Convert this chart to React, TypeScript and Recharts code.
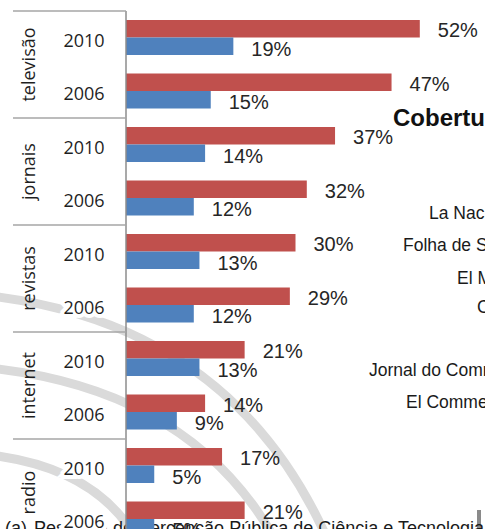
import { BarChart, Bar, XAxis, YAxis, LabelList } from "recharts";

const groups = ["televisão", "jornais", "revistas", "internet", "radio"];
const years = ["2010", "2006"];
// red bars (top of each pair) and blue bars (bottom), in row order
const redValues = [52, 47, 37, 32, 30, 29, 21, 14, 17, 21];
const blueValues = [19, 15, 14, 12, 13, 12, 13, 9, 5, 5];
const sideTexts = ["La Nación", "Folha de S.Paulo", "El Mercurio", "Clarín", "Jornal do Commercio", "El Commercio"];
const caption = ["(a)", "Pesquisa de Percepção Pública de Ciência e Tecnologia"];
const title = "Cobertura";

const RED = "#C0504D";
const BLUE = "#4F81BD";
const BAND = 53.5;

const rows = groups.flatMap((g, gi) =>
  years.map((y, yi) => ({
    key: `${g}-${y}`,
    group: g,
    year: y,
    red: redValues[gi * 2 + yi],
    blue: blueValues[gi * 2 + yi],
  }))
);

const YearTick = (props: any) => {
  const { y, payload } = props;
  const idx = payload.index;
  const row = rows[idx];
  const first = idx % 2 === 0;
  return (
    <g>
      <text
        x={84}
        y={y + 2}
        textAnchor="middle"
        dominantBaseline="central"
        fontFamily="'Open Sans', sans-serif"
        fontSize={18}
        fill="#1f1f1f"
        stroke="#fff"
        strokeWidth={8}
        paintOrder="stroke"
      >
        {row.year}
      </text>
      {first && (
        <>
          <line x1={13} x2={126} y1={y - BAND / 2} y2={y - BAND / 2} stroke="#a6a6a6" strokeWidth={1.5} />
          <text
            x={28}
            y={y + BAND / 2}
            transform={`rotate(-90, 28, ${y + BAND / 2})`}
            textAnchor="middle"
            dominantBaseline="central"
            fontFamily="'Open Sans', sans-serif"
            fontSize={18}
            fill="#1f1f1f"
          >
            {row.group}
          </text>
        </>
      )}
    </g>
  );
};

const makeLabel = (dy: number) => (props: any) => {
  const { x, y, width, height, value } = props;
  return (
    <text
      x={x + width + 18}
      y={y + height / 2 + dy}
      dominantBaseline="central"
      fontFamily="'Liberation Sans', Arial, sans-serif"
      fontSize={20}
      fill="#262626"
    >
      {value}%
    </text>
  );
};

const textStyle = {
  position: "absolute" as const,
  fontFamily: "'Liberation Sans', Arial, sans-serif",
  fontSize: 17.5,
  color: "#1a1a1a",
  whiteSpace: "nowrap" as const,
  lineHeight: "20px",
};

export default function App() {
  const sidePos = [
    [429, 203],
    [403, 235],
    [457, 268],
    [477, 297],
    [369, 360],
    [406, 392],
  ];
  return (
    <div
      style={{
        position: "absolute",
        left: 0,
        top: 0,
        width: 485,
        height: 529,
        overflow: "hidden",
        background: "#fff",
      }}
    >
      <svg width={485} height={529} style={{ position: "absolute", left: 0, top: 0 }}>
        <g fill="none" stroke="#dadada" strokeWidth={9} strokeLinecap="round">
          <path d="M -10 296 Q 235 325 330 545" />
          <path d="M -10 368 Q 195 390 278 545" />
          <path d="M -10 455 Q 100 468 140 545" />
        </g>
        <rect x={477} y={510} width={4} height={19} fill="#8a8a8a" />
      </svg>
      {sideTexts.map((t, i) => (
        <div key={t} style={{ ...textStyle, left: sidePos[i][0], top: sidePos[i][1] }}>
          {t}
        </div>
      ))}
      <div style={{ ...textStyle, left: 393, top: 103, fontSize: 24, fontWeight: 700, color: "#111", lineHeight: "30px" }}>
        {title}
      </div>
      <div style={{ ...textStyle, fontSize: 18, left: 5, top: 518 }}>{caption[0]}</div>
      <div style={{ ...textStyle, fontSize: 18, left: 34, top: 518 }}>{caption[1]}</div>
      <div style={{ position: "absolute", left: 0, top: 0 }}>
        <BarChart
          width={485}
          height={546}
          data={rows}
          layout="vertical"
          margin={{ top: 11, right: 20, bottom: 0, left: 0 }}
          barGap={0}
        >
          <XAxis type="number" domain={[0, 60]} hide />
          <YAxis
            type="category"
            dataKey="key"
            width={126}
            axisLine={{ stroke: "#8c8c8c", strokeWidth: 1.5 }}
            tickLine={false}
            tick={<YearTick />}
            interval={0}
          />
          <Bar dataKey="red" fill={RED} barSize={17.5} isAnimationActive={false}>
            <LabelList dataKey="red" content={makeLabel(1.5)} />
          </Bar>
          <Bar dataKey="blue" fill={BLUE} barSize={17.5} isAnimationActive={false}>
            <LabelList dataKey="blue" content={makeLabel(2.5)} />
          </Bar>
        </BarChart>
      </div>
    </div>
  );
}
